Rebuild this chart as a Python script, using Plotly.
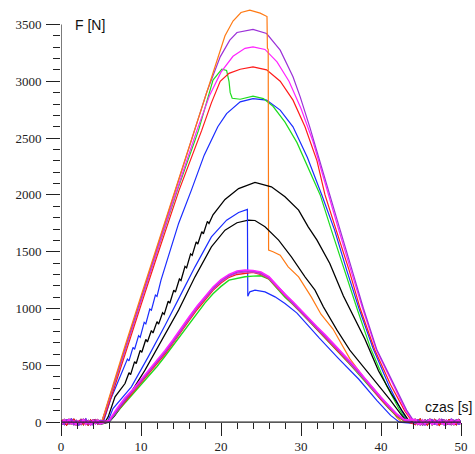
import plotly.graph_objects as go

# baseline noise before the load starts and after it ends
T_LEAD = [0.1, 0.4, 0.7, 1.0, 1.3, 1.6, 1.9, 2.2, 2.5, 2.8, 3.1, 3.4, 3.7, 4.0, 4.3, 4.6, 4.9]
T_TAIL = [44.3, 44.6, 44.9, 45.2, 45.5, 45.8, 46.1, 46.4, 46.7, 47.0, 47.3, 47.6, 47.9, 48.2,
          48.5, 48.8, 49.1, 49.4, 49.7, 50.0]

NOISE_LEAD = [
    [12, -18, 25, -10, 30, -22, 8, -28, 20, -5, 26, -15, 10, -24, 18, -12, 15],
    [-15, 22, -8, 28, -20, 14, -26, 10, -12, 24, -18, 6, -22, 16, -9, 20, -14],
    [20, -6, -24, 15, -12, 28, -18, 5, 22, -20, 12, -27, 18, -8, 25, -16, 4],
    [-22, 10, 18, -14, 24, -25, 16, -6, -20, 28, -10, 14, -24, 22, -12, 8, -18],
]
NOISE_TAIL = [
    [18, -20, 10, -26, 22, -8, 28, -16, 6, -22, 20, -12, 25, -18, 12, -25, 16, -6, 22, -14],
    [-12, 24, -18, 8, -25, 16, -10, 26, -20, 14, -6, 22, -24, 10, -16, 28, -8, 18, -22, 12],
    [25, -10, -22, 18, -14, 6, 24, -26, 12, -18, 28, -8, -20, 16, -12, 22, -24, 8, 14, -16],
    [-20, 14, 26, -12, 8, -24, 16, -18, 22, -6, -26, 18, 10, -22, 24, -14, 6, -20, 26, -10],
]

# high load runs
orange_t = [5.1, 5.6, 6.5, 8, 10, 12, 14, 16, 18, 19.5, 20.5, 21.5, 22.5, 23.6, 24.9, 25.75,
            25.8, 25.9, 25.95, 26.5, 27.4, 28.4, 29.7, 31.3, 32.5, 34, 36.1, 38, 39.6, 41.1, 42, 42.6]
orange_f = [5, 120, 330, 670, 1110, 1550, 1990, 2430, 2870, 3200, 3400, 3530, 3605, 3626, 3600, 3570,
            3290, 3280, 1514, 1500, 1470, 1367, 1279, 1100, 950, 820, 560, 380, 250, 130, 40, 0]

purple_t = [5.1, 5.6, 6.5, 8, 10, 12, 14, 16.5, 18.2, 19.9, 21.1, 22, 24, 25.7, 27.4, 29, 29.9,
            31.1, 32.8, 33.6, 34.9, 36.5, 37.8, 39.5, 41.5, 43.2, 44]
purple_f = [5, 110, 320, 650, 1090, 1530, 1960, 2520, 2900, 3215, 3362, 3429, 3456, 3420, 3274, 3039, 2863,
            2596, 2200, 2000, 1690, 1311, 1003, 634, 343, 106, 20]

magenta_t = [5.1, 5.6, 6.5, 8, 10, 12, 14, 17, 18.6, 20, 21.5, 23, 24, 25.5, 27, 28.5, 30, 31.5,
             33.4, 34.6, 36.3, 37.7, 39.4, 41.4, 43.1, 43.9]
magenta_f = [5, 105, 310, 640, 1075, 1510, 1940, 2570, 2880, 3080, 3220, 3290, 3303, 3280, 3170, 3000, 2760, 2470,
             2000, 1720, 1320, 1000, 640, 340, 100, 20]

red_t = [5.2, 5.7, 6.6, 8, 10, 12, 14.75, 17.6, 18.8, 19.9, 21, 22.4, 24, 25.7, 27.4, 29, 30.5, 32,
         33, 34.4, 36, 37.4, 39.2, 41.2, 43, 43.8]
red_f = [5, 100, 290, 600, 1030, 1460, 2040, 2570, 2810, 3000, 3070, 3106, 3127, 3100, 3000, 2834, 2600, 2300,
         2000, 1690, 1340, 1000, 640, 330, 95, 15]

green_t = [5.1, 5.6, 6.5, 8, 10, 12, 14.55, 17.2, 19, 20.1, 20.7, 21.0, 21.15, 21.4, 22.4, 24, 25.3,
           26.5, 28, 29.5, 31, 32.4, 33.8, 35.4, 37, 38.7, 40.7, 42.3, 43.2]
green_f = [5, 105, 305, 630, 1065, 1500, 2042, 2570, 3010, 3106, 3095, 3000, 2900, 2850, 2842, 2869, 2848,
           2780, 2640, 2460, 2230, 2000, 1690, 1340, 1000, 650, 320, 110, 10]

blue_t = [5.3, 6.2, 7.2, 8.3, 8.5, 9.0, 9.2, 9.7, 9.9, 10.4, 10.6, 11.1, 11.3, 11.8, 12.0, 12.5,
          13.4, 14.7, 16.3, 17.9, 19.6, 20.7, 22.4, 24, 25.7, 27.4,
          29, 30.8, 32.6, 34.2, 35.7, 37.25, 39, 41, 42.5, 43.3]
blue_f = [5, 200, 370, 556, 540, 658, 642, 761, 747, 878, 865, 996, 986, 1118, 1107, 1250,
          1455, 1749, 2042, 2350, 2600, 2716, 2819, 2848, 2834, 2746,
          2599, 2330, 2000, 1690, 1340, 1000, 650, 320, 110, 10]

# middle runs
black1_t = [5.5, 5.9, 6.75, 8.0, 8.5, 8.7, 9.2, 9.4, 9.9, 10.1, 10.6, 10.8, 11.3, 11.5, 12.0, 12.2,
            12.7, 12.9, 13.4, 13.6, 14.1, 14.3, 14.8, 15.0, 15.5, 15.7, 16.2, 16.4, 16.9, 17.1, 17.6,
            17.8, 18.3, 18.5, 19.0, 20.5, 22.2, 24.25, 26.3, 28, 29.7,
            30.9, 32, 33.6, 35.3, 36.6, 38, 39.7, 41.3, 42.6, 43.4]
black1_f = [0, 47, 223, 340, 435, 418, 533, 516, 632, 615, 728, 706, 807, 785, 885, 863,
            963, 949, 1064, 1047, 1162, 1145, 1260, 1247, 1371, 1358, 1481, 1468, 1587, 1568, 1677,
            1658, 1767, 1748, 1825, 1960, 2056, 2110, 2071, 1983, 1866,
            1719, 1602, 1397, 1110, 920, 730, 450, 250, 105, 20]

black2_t = [6.0, 6.75, 8.4, 10.5, 12.6, 14.7, 16.75, 18.8, 20.5, 22, 23.4, 24.25, 25.5, 27.2, 28.8,
            30.5, 31.75, 32.8, 34.5, 36.1, 37.8, 39.3, 41.1, 42.4, 43.2]
black2_f = [0, 60, 223, 458, 722, 986, 1279, 1543, 1690, 1755, 1778, 1775, 1719, 1602, 1455,
            1279, 1162, 1015, 810, 634, 487, 360, 200, 77, 10]

blue2_t = [5.8, 6.5, 8.8, 10.9, 13, 15.1, 16.75, 18.8, 20.7, 22.2, 23.3, 23.35, 23.6, 24.25, 25.5,
           26.75, 28, 29.5, 30.9, 32.3, 34.7, 37.2, 39.5, 41.2, 42.3]
blue2_f = [0, 120, 311, 575, 850, 1140, 1367, 1631, 1778, 1845, 1872, 1109, 1147, 1162, 1147,
           1103, 1045, 960, 845, 740, 560, 380, 190, 60, 0]

# low load bundle
low_t = [6, 7, 8, 9, 10, 11, 12, 13, 14, 15, 16, 17, 18, 19, 20, 21, 22, 23, 24, 25, 26, 27, 28, 29,
         30, 31, 32, 33, 34, 35, 36, 37, 38, 39, 40, 41, 42, 43]
low_grn = [5, 90, 170, 250, 330, 410, 490, 580, 675, 775, 870, 965, 1050, 1130, 1195, 1250, 1265, 1280, 1285,
           1288, 1258, 1180, 1100, 1035, 965, 890, 815, 742, 670, 596, 518, 440, 360, 275, 195, 120, 50, 5]
low_red = [12, 95, 185, 265, 350, 432, 512, 600, 695, 800, 895, 990, 1080, 1160, 1225, 1275, 1300, 1310, 1318,
           1300, 1262, 1185, 1108, 1040, 968, 895, 822, 748, 676, 602, 525, 448, 368, 282, 200, 125, 55, 10]
low_orc = [8, 108, 205, 275, 358, 440, 520, 612, 705, 810, 905, 1005, 1090, 1170, 1235, 1283, 1312, 1322, 1322,
           1305, 1265, 1188, 1110, 1042, 970, 898, 826, 752, 680, 606, 528, 452, 372, 288, 206, 132, 62, 12]
low_pur = [5, 100, 195, 285, 365, 450, 530, 620, 715, 820, 918, 1015, 1100, 1180, 1248, 1292, 1322, 1332, 1330,
           1315, 1275, 1198, 1122, 1052, 980, 905, 835, 760, 690, 615, 538, 462, 380, 295, 215, 140, 68, 18]
low_mag = [15, 120, 215, 290, 375, 455, 540, 630, 725, 830, 925, 1020, 1110, 1190, 1255, 1300, 1330, 1338, 1335,
           1322, 1280, 1205, 1125, 1060, 985, 915, 840, 770, 695, 625, 545, 470, 385, 300, 220, 145, 70, 20]

Y_TICKS = [0, 500, 1000, 1500, 2000, 2500, 3000, 3500]
X_TICKS = [0, 10, 20, 30, 40, 50]

runs = [
    (blue_t, blue_f, "#1a2cff", 1.2),
    (green_t, green_f, "#1edc1e", 1.2),
    (red_t, red_f, "#ff1a1a", 1.2),
    (magenta_t, magenta_f, "#ff22ff", 1.2),
    (purple_t, purple_f, "#9b30d8", 1.2),
    (orange_t, orange_f, "#ff7a14", 1.2),
    (black1_t, black1_f, "#000000", 1.3),
    (black2_t, black2_f, "#000000", 1.2),
    (blue2_t, blue2_f, "#1a2cff", 1.2),
    (low_t, low_grn, "#1edc1e", 1.4),
    (low_t, low_red, "#ff1a1a", 1.4),
    (low_t, low_orc, "#cc44cc", 1.4),
    (low_t, low_pur, "#9b30d8", 1.6),
    (low_t, low_mag, "#ff22ff", 1.6),
]

fig = go.Figure()
for i, (t, f, color, w) in enumerate(runs):
    lead = NOISE_LEAD[i % 4]
    tail = NOISE_TAIL[(i + 1) % 4]
    fig.add_trace(go.Scatter(
        x=T_LEAD + list(t) + T_TAIL,
        y=lead + list(f) + tail,
        mode="lines",
        line=dict(color=color, width=w),
        showlegend=False,
        hoverinfo="skip",
    ))

# axis lines drawn by hand so they stop at 50 s and 3500 N
fig.add_shape(type="line", xref="x", yref="y", x0=0, x1=0, y0=-45, y1=3500,
              line=dict(color="#222", width=1.2))
fig.add_shape(type="line", xref="x", yref="y", x0=0, x1=50, y0=0, y1=0,
              line=dict(color="#222", width=1.2))

fig.add_annotation(x=1.5, y=3495, xref="x", yref="y", text="F [N]", showarrow=False,
                   xanchor="left", yanchor="middle",
                   font=dict(family="Liberation Sans", size=14, color="#111"))
fig.add_annotation(x=45.2, y=134, xref="x", yref="y", text="czas [s]", showarrow=False,
                   xanchor="left", yanchor="middle",
                   font=dict(family="Liberation Sans", size=14, color="#111"))

tick_font = dict(family="Liberation Serif", size=13, color="#222")

fig.update_layout(
    width=475,
    height=454,
    margin=dict(l=61, r=14, t=4, b=25),
    plot_bgcolor="white",
    paper_bgcolor="white",
    xaxis=dict(
        range=[0, 50],
        anchor="free",
        position=60 / 3740,
        automargin=False,
        showgrid=False,
        zeroline=False,
        showline=False,
        ticks="outside",
        ticklen=13,
        tickwidth=1,
        tickcolor="#222",
        tickvals=X_TICKS,
        ticktext=[str(v) for v in X_TICKS],
        tickfont=tick_font,
        ticklabelstandoff=-1,
        minor=dict(tickvals=[v for v in range(2, 50, 2) if v % 10], ticks="outside",
                   ticklen=6, tickwidth=1, tickcolor="#222", showgrid=False),
    ),
    yaxis=dict(
        range=[-60, 3680],
        automargin=False,
        showgrid=False,
        zeroline=False,
        showline=False,
        ticks="outside",
        ticklen=14,
        tickwidth=1,
        tickcolor="#222",
        tickvals=Y_TICKS,
        ticktext=[str(v) for v in Y_TICKS],
        tickfont=tick_font,
        ticklabelstandoff=2,
        minor=dict(tickvals=[v for v in range(100, 3500, 100) if v % 500], ticks="outside",
                   ticklen=7, tickwidth=1, tickcolor="#222", showgrid=False),
    ),
)

# the page body has a default 8px margin; drop it so the figure sits at the corner
fig.write_html("out.html", config={"displayModeBar": False},
               post_script="document.body.style.margin='0';")
